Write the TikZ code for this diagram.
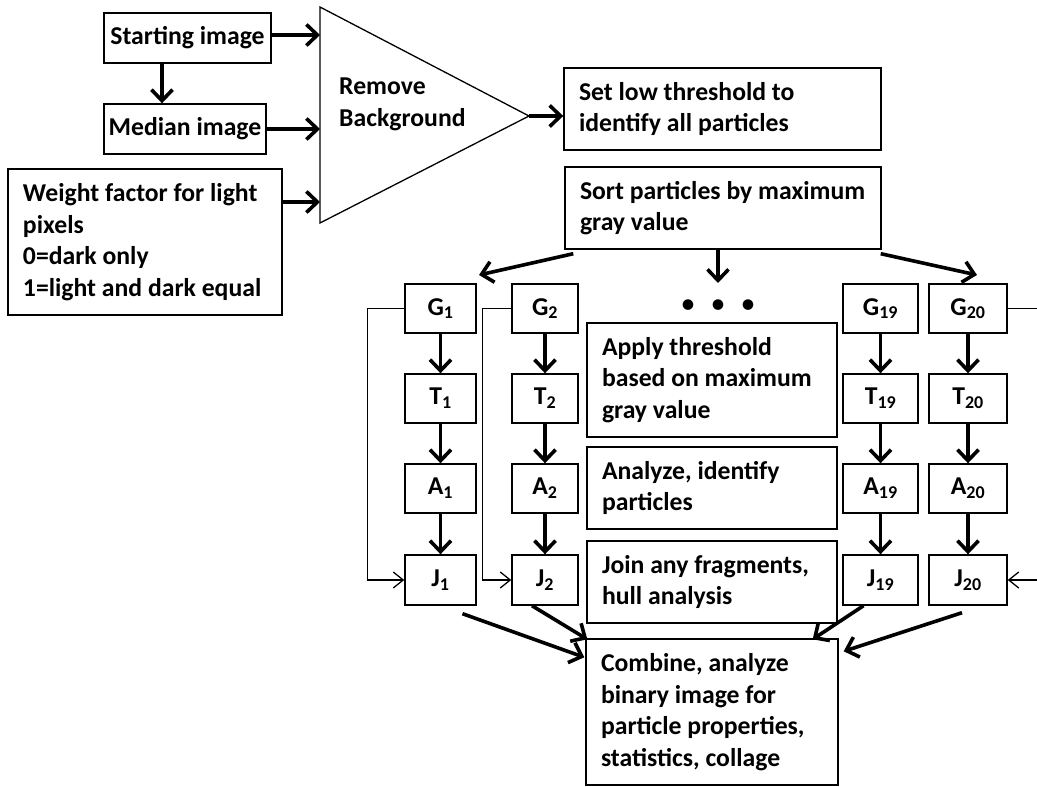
\documentclass[tikz,border=0pt]{standalone}
\usepackage{fontspec}
\setmainfont{Carlito}
\usetikzlibrary{arrows.meta,calc}
\newcommand\fs{\fontsize{25.7}{31.5}\selectfont\bfseries}
\begin{document}
\begin{tikzpicture}[x=1pt,y=-1pt,
  box/.style={draw,line width=1.4pt,inner sep=0pt,align=center,font=\fs},
  tbox/.style={draw,line width=1.4pt,inner xsep=15pt,inner ysep=0pt,align=flush left,font=\fs},
  arr/.style={line width=3.6pt,-{Straight Barb[length=11pt,width=21pt]}},
  thinarr/.style={line width=1.3pt,-{Straight Barb[length=10pt,width=16pt]}},
  tri/.style={draw,line width=1.3pt}
]
\useasboundingbox (0,0) rectangle (1037,787);
\fill[white] (0,0) rectangle (1037,787);

\node[box,minimum width=167,minimum height=50] (start) at (187.5,38) {Starting image};
\node[box,minimum width=162,minimum height=50] (median) at (185,129) {Median image};
\node[tbox,text width=244,minimum height=146] (weight) at (145,242)
  {\mbox{Weight factor for light}\\pixels\\0=dark only\\\mbox{1=light and dark equal}};

\draw[tri] (320,7) coordinate (tA) -- (320,223) coordinate (tB) -- (529,116) coordinate (tC) -- cycle;
\node[font=\fs,align=left,anchor=west,inner sep=0pt] (rb) at (339,104.5) {Remove\\Background};

\draw[arr] ([yshift=3pt]start.east) -- ([yshift=3pt]start.east -| tA);
\draw[arr] (median.east) -- (median.east -| tA);
\draw[arr] ([yshift=40pt]weight.east) -- ([yshift=40pt]weight.east -| tA);
\draw[arr] ([xshift=-25.5pt]start.south) -- ([xshift=-25.5pt]start.south |- median.north);

\node[tbox,text width=287,minimum height=82] (setlow) at (722.5,109)
  {Set low threshold to\\identify all particles};
\draw[arr] (tC) -- (tC -| setlow.west);

\node[tbox,text width=286,minimum height=82] (sort) at (723,208)
  {\mbox{Sort particles by maximum}\\gray value};

\coordinate (dL) at (479,275);
\coordinate (dM) at (718,283);
\coordinate (dR) at (977,275);
\draw[arr] ($(sort.south west)+(9,4)$) -- (dL);
\draw[arr] (sort.south -| dM) -- (dM);
\draw[arr] ($(sort.south east)+(-1,4)$) -- (dR);

\node[font=\fontsize{30}{30}\selectfont,inner sep=0pt] (dots) at (718,307)
  {\makebox[30pt]{•}\makebox[30pt]{•}\makebox[30pt]{•}};

\foreach \n/\x/\w in {1/440.5/71, 2/545/66, 19/880.5/75, 20/968/78} {
  \node[box,minimum width=\w,minimum height=49] (G\n) at (\x,308.5) {G\textsubscript{\n}};
  \node[box,minimum width=\w,minimum height=49] (T\n) at (\x,398.5) {T\textsubscript{\n}};
  \node[box,minimum width=\w,minimum height=49] (A\n) at (\x,488.5) {A\textsubscript{\n}};
  \node[box,minimum width=\w,minimum height=50] (J\n) at (\x,580) {J\textsubscript{\n}};
  \draw[arr] (G\n) -- (T\n);
  \draw[arr] (T\n) -- (A\n);
  \draw[arr] (A\n) -- (J\n);
}

\node[tbox,text width=220,minimum height=114] (apply) at (712,380)
  {Apply threshold\\\mbox{based on maximum}\\gray value};
\node[tbox,text width=220,minimum height=82] (analyze) at (712,488)
  {Analyze, identify\\particles};
\node[tbox,text width=220,minimum height=82] (join) at (712,582)
  {\mbox{Join any fragments,}\\hull analysis};
\node[tbox,text width=222,minimum height=146] (comb) at (712,712)
  {Combine, analyze\\binary image for\\\mbox{particle properties,}\\statistics, collage};

\draw[thinarr] (G1.west) -- ++(-37,0) |- (J1.west);
\draw[thinarr] (G2.west) -- ++(-29,0) |- (J2.west);
\coordinate (eR1) at (1037,308.5);
\coordinate (eR2) at (1037,580);
\draw[line width=1.3pt] (G20.east) -- (eR1);
\draw[thinarr] (eR2) -- (J20.east);

\draw[arr] ($(J1.south)+(22,8)$) -- ($(comb.north west)+(-1,19)$);
\draw[arr] ($(J2.south)+(-13,0)$) -- ($(comb.north west)+(2,1)$);
\draw[arr] ($(J19.south)+(-17,0)$) -- ($(comb.north east)+(-26,1)$);
\draw[arr] ($(J20.south)+(-6,7)$) -- ($(comb.north east)+(5,13)$);
\end{tikzpicture}
\end{document}
